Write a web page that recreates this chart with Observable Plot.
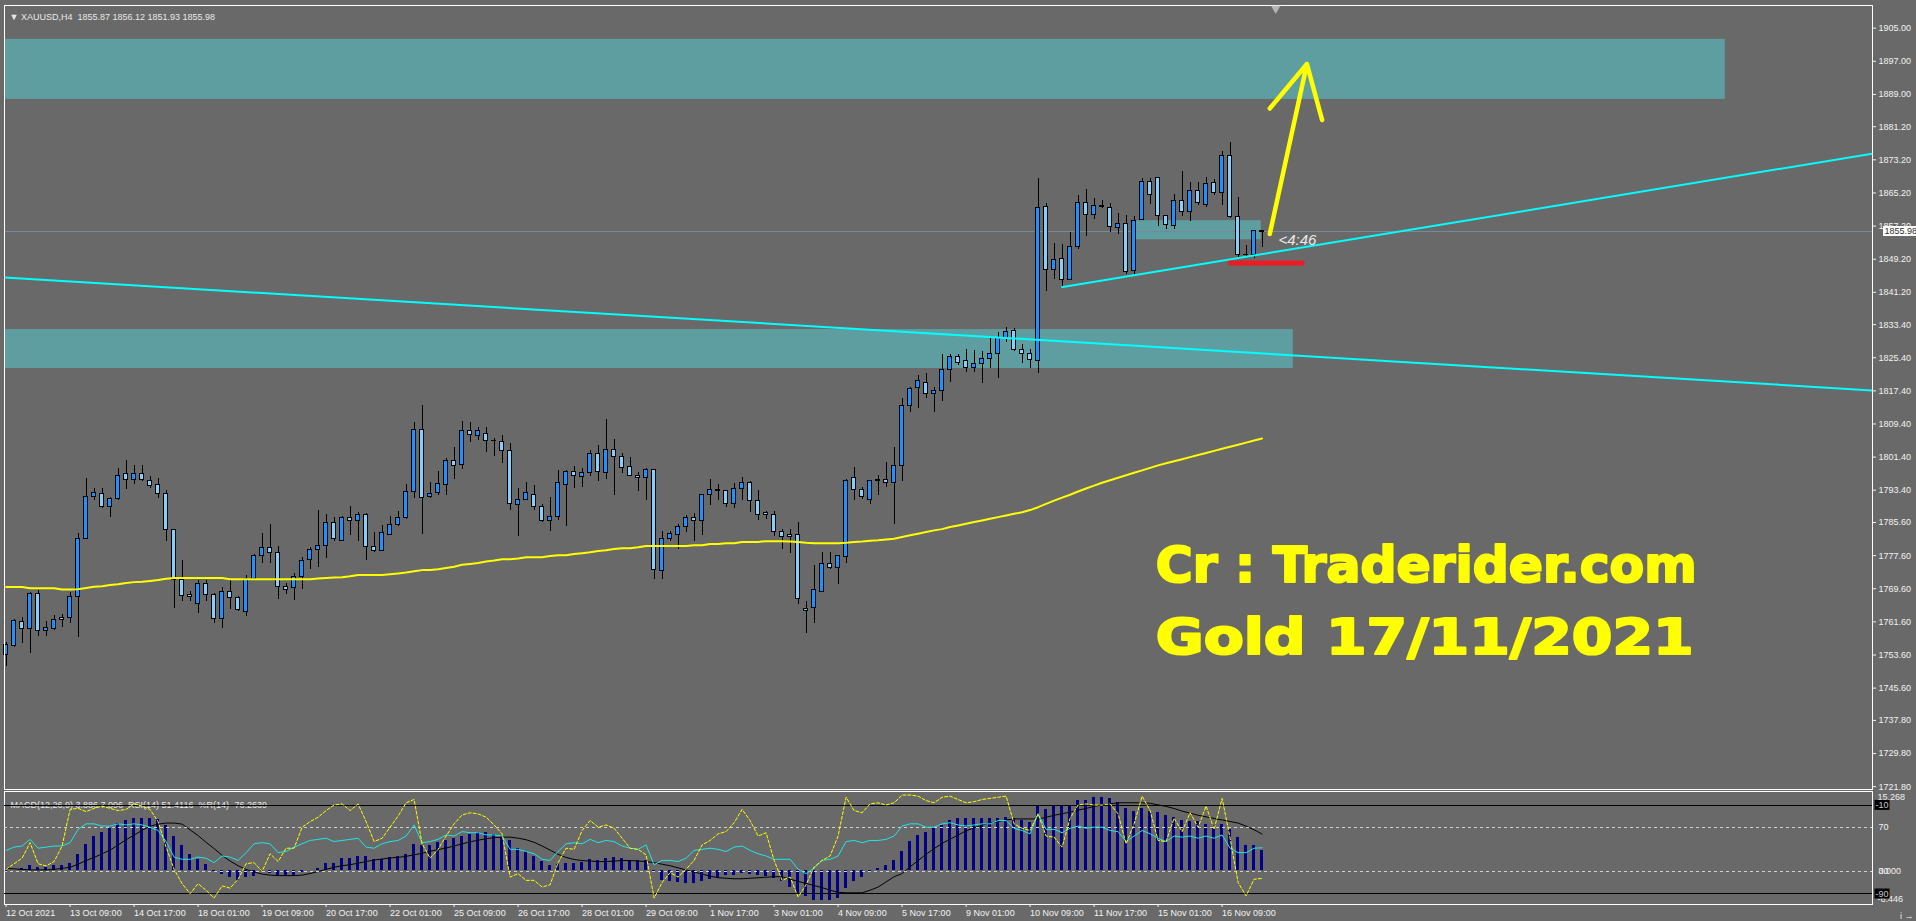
<!DOCTYPE html>
<html><head><meta charset="utf-8">
<script src="https://cdn.jsdelivr.net/npm/d3@7"></script>
<script src="https://cdn.jsdelivr.net/npm/@observablehq/plot@0.6"></script>
<style>
html,body{margin:0;padding:0;background:#696969;overflow:hidden;}
#wrap{position:relative;width:1916px;height:921px;background:#696969;}
#wrap svg{position:absolute;left:0;}
</style></head><body><div id="wrap"></div><script>
// ---------- DATA ----------
const xLabels = ["12 Oct 2021","13 Oct 09:00","14 Oct 17:00","18 Oct 01:00","19 Oct 09:00","20 Oct 17:00","22 Oct 01:00","25 Oct 09:00","26 Oct 17:00","28 Oct 01:00","29 Oct 09:00","1 Nov 17:00","3 Nov 01:00","4 Nov 09:00","5 Nov 17:00","9 Nov 01:00","10 Nov 09:00","11 Nov 17:00","15 Nov 01:00","16 Nov 09:00"];
const priceTicks = [1905,1897,1889,1881.2,1873.2,1865.2,1857.2,1849.2,1841.2,1833.4,1825.4,1817.4,1809.4,1801.4,1793.4,1785.6,1777.6,1769.6,1761.6,1753.6,1745.6,1737.8,1729.8,1721.8];

const opens = [1753.5,1755.8,1761.6,1759.9,1768.4,1759.4,1759.9,1762.6,1762.6,1767.6,
1781.7,1791.8,1792.5,1789.3,1791.3,1797.2,1795.9,1797.2,1795.7,1794.7,
1792.5,1783.7,1771.8,1768.2,1765.9,1770.8,1768.1,1762.3,1768.9,1767.4,
1764.0,1772.0,1777.6,1779.5,1778.3,1770.1,1769.8,1772.5,1776.6,1779.0,
1780.0,1785.5,1781.2,1786.7,1786.0,1787.5,1779.7,1778.8,1782.6,1784.9,
1786.7,1793.0,1808.0,1791.7,1792.8,1794.7,1800.5,1799.5,1807.7,1806.5,
1807.0,1805.2,1805.1,1802.9,1789.9,1791.1,1792.3,1789.4,1786.0,1787.0,
1794.7,1797.9,1796.6,1797.6,1802.2,1797.6,1803.2,1801.5,1799.1,1796.9,
1796.4,1798.3,1773.9,1781.7,1782.6,1784.5,1786.7,1786.0,1792.3,1793.4,
1793.1,1790.1,1793.7,1795.2,1790.8,1787.9,1787.5,1783.4,1782.6,1782.6,
1764.8,1765.0,1768.8,1775.6,1774.6,1777.2,1796.4,1793.5,1791.1,1795.8,
1795.9,1795.2,1799.3,1813.8,1818.1,1819.3,1816.7,1817.3,1822.5,1825.5,
1824.6,1823.0,1823.9,1825.1,1826.2,1830.2,1831.8,1827.3,1826.3,1824.6,
1861.8,1846.6,1849.3,1844.2,1852.1,1862.8,1859.9,1862.0,1861.6,1856.8,
1857.7,1846.4,1858.7,1867.8,1868.8,1859.7,1857.3,1863.2,1860.7,1865.6,
1862.3,1867.7,1865.2,1874.2,1859.3,1850.1,1850.1,1855.87];
const highs = [1756.7,1762.2,1762.6,1768.6,1769.2,1761.8,1763.1,1763.4,1768.8,1782.9,
1796.2,1793.7,1793.7,1791.6,1798.6,1800.6,1799.4,1799.4,1796.6,1796.2,
1793.3,1783.9,1776.4,1768.9,1771.6,1771.6,1768.4,1770.0,1771.6,1767.8,
1772.8,1777.9,1783.0,1785.1,1779.8,1770.9,1773.4,1777.2,1779.6,1788.5,
1787.5,1786.8,1787.1,1789.5,1788.0,1787.7,1783.1,1784.9,1787.1,1788.3,
1794.8,1809.8,1813.9,1795.3,1797.9,1801.0,1803.7,1809.9,1809.8,1808.5,
1808.5,1805.9,1806.5,1804.6,1793.8,1795.3,1794.5,1790.0,1791.7,1798.2,
1798.2,1799.1,1798.6,1803.0,1804.1,1810.5,1805.6,1802.2,1801.2,1797.6,
1798.6,1798.3,1783.4,1783.5,1785.1,1787.3,1787.7,1792.3,1796.0,1794.8,
1793.3,1795.0,1796.5,1795.5,1793.3,1788.3,1788.3,1783.8,1783.8,1785.6,
1766.5,1775.2,1778.3,1778.3,1777.6,1795.9,1799.0,1794.0,1795.7,1797.0,
1800.0,1803.7,1815.6,1818.3,1821.1,1821.5,1818.1,1826.1,1826.3,1826.3,
1827.3,1827.2,1826.9,1830.4,1831.6,1832.6,1832.4,1828.5,1827.3,1868.6,
1862.6,1852.9,1852.7,1855.7,1864.6,1866.0,1863.8,1863.4,1862.6,1860.2,
1859.8,1859.5,1868.6,1868.6,1868.9,1859.7,1864.8,1870.3,1867.8,1867.8,
1868.9,1868.5,1875.1,1877.5,1864.0,1852.4,1856.1,1856.12];
const lows = [1750.7,1755.5,1756.4,1753.9,1758.1,1758.1,1759.5,1760.2,1761.3,1757.9,
1781.7,1790.8,1788.9,1786.7,1790.8,1793.6,1794.7,1795.6,1793.7,1791.5,
1780.9,1764.9,1766.4,1766.5,1763.7,1766.5,1761.1,1760.1,1764.7,1764.0,
1763.0,1772.0,1775.8,1775.8,1767.1,1768.2,1766.8,1769.5,1774.3,1774.8,
1776.8,1781.1,1781.2,1782.5,1780.9,1776.4,1778.3,1778.5,1782.6,1784.7,
1786.4,1791.3,1782.7,1791.4,1792.2,1792.1,1796.1,1798.5,1805.0,1805.4,
1802.6,1801.6,1799.9,1788.6,1782.3,1790.9,1788.4,1785.5,1783.5,1786.0,
1784.7,1793.9,1794.1,1796.8,1795.6,1796.1,1792.2,1797.5,1796.9,1793.2,
1791.0,1771.9,1771.9,1781.1,1779.0,1783.3,1780.9,1782.5,1789.7,1790.9,
1789.3,1789.1,1790.8,1788.1,1786.1,1786.4,1782.2,1779.2,1778.2,1765.7,
1758.7,1761.3,1768.8,1774.2,1770.6,1775.8,1790.8,1791.2,1790.0,1792.1,
1794.1,1785.0,1795.6,1812.2,1813.1,1815.6,1812.2,1814.9,1819.5,1823.5,
1821.9,1821.9,1819.1,1822.7,1820.3,1829.2,1827.0,1824.1,1822.9,1821.5,
1841.5,1844.4,1842.5,1844.1,1851.6,1854.8,1858.9,1861.5,1855.7,1855.1,
1845.5,1845.5,1858.7,1862.4,1857.1,1856.4,1856.3,1859.6,1858.2,1862.2,
1861.8,1864.6,1862.2,1859.0,1849.7,1849.7,1849.3,1851.93];
const closes = [1756.1,1761.9,1759.9,1768.4,1759.4,1760.2,1762.1,1762.1,1767.6,1781.7,
1791.8,1792.8,1789.3,1791.3,1796.9,1795.9,1797.2,1795.9,1794.5,1792.5,
1783.8,1771.6,1767.9,1767.6,1770.8,1768.1,1762.3,1768.9,1767.4,1764.4,
1772.0,1777.6,1779.5,1778.3,1770.1,1769.3,1772.5,1776.3,1779.0,1780.0,
1785.5,1781.7,1786.7,1786.0,1787.5,1779.7,1778.8,1783.1,1785.0,1786.7,
1793.0,1808.0,1791.6,1792.5,1794.9,1800.5,1799.3,1807.7,1806.7,1807.7,
1805.2,1805.3,1802.9,1790.1,1791.1,1792.8,1789.4,1786.0,1787.0,1795.2,
1797.9,1796.9,1797.6,1802.2,1797.9,1803.2,1801.5,1798.8,1796.9,1796.4,
1798.3,1774.2,1781.7,1782.9,1784.5,1786.7,1786.0,1792.3,1793.5,1793.3,
1790.1,1793.7,1795.2,1790.8,1787.5,1787.5,1783.3,1782.1,1782.1,1767.2,
1764.2,1769.3,1775.6,1774.6,1777.4,1795.7,1793.5,1791.7,1795.7,1795.7,
1795.2,1799.3,1813.8,1817.9,1819.7,1816.7,1817.3,1822.5,1825.5,1824.2,
1823.0,1823.9,1825.1,1826.3,1830.2,1831.7,1827.3,1826.3,1824.9,1861.6,
1846.6,1849.0,1844.2,1852.1,1862.8,1859.9,1862.1,1861.9,1857.0,1857.7,
1846.2,1858.5,1867.8,1864.8,1859.7,1857.5,1863.2,1860.7,1865.6,1862.8,
1867.4,1865.2,1874.2,1859.3,1850.1,1850.2,1855.9,1855.98];
const movingAvg = [1770.0,1770.0,1770.0,1769.7,1769.7,1769.7,1769.7,1769.4,1769.4,1769.5,
1769.8,1770.1,1770.2,1770.5,1770.7,1771.0,1771.2,1771.3,1771.5,1771.7,
1772.0,1772.2,1772.2,1772.2,1772.2,1772.2,1772.2,1772.2,1771.9,1771.9,
1771.9,1771.9,1771.9,1771.9,1771.9,1771.9,1771.9,1771.9,1771.9,1772.1,
1772.2,1772.3,1772.4,1772.6,1772.9,1772.9,1772.9,1772.9,1773.1,1773.3,
1773.5,1773.8,1774.1,1774.1,1774.3,1774.6,1774.9,1775.4,1775.6,1775.8,
1776.2,1776.4,1776.7,1776.7,1776.9,1777.2,1777.2,1777.2,1777.5,1777.7,
1777.7,1778.0,1778.2,1778.4,1778.7,1778.9,1779.2,1779.4,1779.4,1779.6,
1779.9,1779.9,1779.9,1779.9,1779.9,1779.9,1780.1,1780.1,1780.4,1780.4,
1780.6,1780.6,1780.9,1780.9,1780.9,1781.1,1781.1,1781.1,1781.0,1780.9,
1780.7,1780.6,1780.6,1780.6,1780.6,1780.7,1780.9,1781.0,1781.2,1781.3,
1781.5,1781.7,1782.1,1782.5,1782.9,1783.3,1783.7,1784.0,1784.5,1784.9,
1785.3,1785.7,1786.1,1786.5,1786.9,1787.3,1787.7,1788.1,1788.6,1789.3,
1790.1,1790.9,1791.6,1792.3,1793.1,1793.8,1794.5,1795.2,1795.8,1796.4,
1797.0,1797.6,1798.2,1798.8,1799.4,1799.9,1800.4,1800.9,1801.4,1801.9,
1802.4,1802.9,1803.4,1803.9,1804.4,1804.9,1805.4,1805.9];
const macdMain = [-0.3,0.1,0.4,1.0,0.7,0.7,1.0,1.1,1.5,3.1,
5.1,6.6,7.4,8.2,9.2,9.7,10.1,10.1,10.1,9.9,
8.7,6.7,4.8,3.1,2.2,1.2,-0.2,-0.6,-1.3,-1.9,
-1.2,-1.0,-0.2,-0.5,-0.8,-0.8,-0.8,-0.3,0.1,0.5,
1.4,1.5,2.3,2.4,2.8,2.7,2.2,2.2,2.5,2.7,
3.1,5.1,4.9,4.9,5.4,5.8,6.2,6.6,7.1,7.3,
7.3,7.1,6.7,5.8,4.4,3.8,2.8,1.8,1.0,1.2,
1.4,1.5,1.6,2.2,2.0,2.4,2.5,2.3,2.0,2.0,
2.0,-0.3,-1.8,-2.1,-2.3,-2.4,-2.5,-2.1,-1.6,-1.3,
-0.8,-0.8,-0.5,-0.6,-0.8,-1.0,-1.4,-2.1,-3.1,-4.4,
-5.0,-5.6,-5.6,-5.6,-5.2,-3.4,-2.1,-1.2,-0.3,0.5,
1.0,2.0,3.8,5.6,6.9,7.4,8.2,8.8,9.7,10.0,
10.0,10.0,10.0,10.0,10.1,10.3,10.0,9.7,9.3,12.6,
11.8,12.3,12.5,12.6,13.6,13.6,14.2,14.2,13.9,13.1,
12.0,11.4,12.0,11.4,11.3,10.7,10.3,9.7,9.5,9.5,
9.0,8.7,9.0,8.0,6.4,4.8,4.8,3.886];
const macdSignal = [0.5,0.4,0.3,0.2,0.2,0.2,0.3,0.5,0.7,1.3,
2.0,2.6,3.3,4.0,5.0,6.0,6.9,7.8,8.6,9.0,
9.2,9.2,9.0,7.9,6.8,5.5,4.3,3.0,1.9,1.0,
0.3,-0.2,-0.6,-0.8,-0.9,-0.9,-0.9,-0.8,-0.5,-0.1,
0.3,0.7,1.0,1.2,1.5,1.8,2.1,2.3,2.5,2.6,
2.8,3.1,3.4,3.8,4.1,4.4,4.8,5.2,5.6,5.9,
6.2,6.4,6.5,6.5,6.3,6.0,5.5,4.8,4.0,3.2,
2.6,2.2,2.0,1.9,1.8,1.8,1.9,2.0,2.0,1.9,
1.8,1.6,1.3,1.0,0.6,0.2,-0.2,-0.6,-1.0,-1.3,
-1.4,-1.5,-1.5,-1.4,-1.3,-1.2,-1.1,-1.1,-1.6,-2.0,
-2.4,-2.8,-3.2,-3.7,-4.1,-4.2,-4.2,-4.2,-3.7,-3.1,
-2.1,-1.1,-0.5,0.8,2.0,3.2,4.3,5.3,6.1,6.9,
7.7,8.3,8.8,9.2,9.5,9.8,10.0,10.0,10.0,10.0,
10.3,10.7,11.0,11.3,11.7,12.0,12.4,12.7,12.9,13.1,
13.1,13.1,13.1,13.0,12.7,12.4,12.0,11.5,11.1,10.7,
10.4,10.1,9.8,9.5,9.2,8.6,7.9,7.096];
const rsi14 = [49,52,53,59,51,52,53,53,56,68,
73,73,71,71,73,72,73,72,70,67,
57,43,41,41,43,42,38,44,43,40,
47,55,56,55,47,48,52,55,58,59,
60,57,58,59,60,52,51,55,57,58,
62,72,56,57,59,63,62,66,65,65,
63,63,62,50,50,48,46,41,40,48,
55,56,55,59,56,58,57,53,51,50,
54,36,40,40,39,42,49,50,51,50,
48,52,53,49,46,44,41,41,41,32,
28,33,40,41,44,57,58,56,58,58,
59,62,71,73,73,70,70,73,74,72,
71,72,73,73,76,76,69,67,64,82,
68,68,65,69,71,69,70,70,67,66,
57,62,67,64,60,57,62,61,62,60,
62,60,63,51,47,47,51,51.41];
const wpr14 = [-68,-63,-58,-44,-63,-65,-61,-47,-14,-13,
-16,-13,-11,-13,-15,-14,-9,-11,-14,-25,
-48,-68,-81,-90,-81,-87,-94,-83,-85,-77,
-63,-62,-70,-54,-61,-49,-49,-30,-25,-21,
-15,-10,-9,-15,-9,-25,-43,-40,-30,-20,
-8,-5,-45,-58,-50,-38,-27,-19,-17,-18,
-21,-28,-36,-75,-72,-78,-78,-84,-82,-62,
-49,-50,-33,-24,-30,-28,-31,-40,-49,-50,
-55,-94,-80,-71,-75,-68,-60,-46,-42,-36,
-34,-26,-14,-24,-38,-35,-60,-78,-75,-93,
-82,-66,-60,-56,-38,-3,-15,-17,-9,-8,
-10,-8,-1,-1,-2,-6,-8,-3,-2,-5,
-8,-7,-5,-4,-3,-2,-27,-31,-33,-18,
-38,-39,-48,-22,-10,-9,-10,-10,-9,-18,
-45,-27,-2,-15,-42,-43,-22,-34,-17,-30,
-11,-32,-4,-40,-80,-92,-77,-76.26];

// drawn objects (bar index / price anchors)
const zoneX1 = [-2, -2, 141.3];
const zoneX2 = [214.9, 160.9, 156.9];
const zoneTop = [1902.3, 1832.2, 1858.5];
const zoneBottom = [1887.8, 1822.8, 1853.9];
const trendX1 = [-0.2, 131.9];
const trendP1 = [1844.8, 1842.45];
const trendX2 = [233.3, 233.3];
const trendP2 = [1817.5, 1874.7];
const redX = [153.05, 162.0];
const redP = 1848.3;
const arrowFrom = [157.96, 1855.3];
const arrowTo = [162.6, 1896.35];
const lastPrice = 1855.98;
const shiftMarker = 158.7;
const timerText = "<4:46";
const timerAnchor = [159.05, 1853.7];
const bigTexts = ["Cr : Traderider.com", "Gold 17/11/2021"];
const bigX = [143.7, 143.7];
const bigY = [1775.2, 1757.6];
const bigW = [541, 538];
const header = "\u25BC XAUUSD,H4  1855.87 1856.12 1851.93 1855.98";
const indHeader = "MACD(12,26,9) 3.886 7.096  RSI(14) 51.4116  %R(14) -76.2639";

// ---------- BUILD ----------
const N = opens.length;
const bars = d3.range(N).map(i => ({i, o: opens[i], h: highs[i], l: lows[i], c: closes[i],
  ma: movingAvg[i], macd: macdMain[i], sig: macdSignal[i], rsi: rsi14[i], wpr: wpr14[i]}));
const zones = zoneX1.map((x, k) => ({x1: x, x2: zoneX2[k], y1: zoneBottom[k], y2: zoneTop[k]}));
const trends = trendX1.map((x, k) => ({x1: x, y1: trendP1[k], x2: trendX2[k], y2: trendP2[k]}));
const xDomain = [-0.2, 233.3];
const FONT = "'Liberation Sans', Arial, sans-serif";
const baseStyle = {background: "transparent", fontFamily: FONT, fontSize: "9px", color: "white", overflow: "visible"};

const main = Plot.plot({
  width: 1916, height: 790, marginTop: 5, marginBottom: 1, marginLeft: 4, marginRight: 44,
  style: baseStyle,
  x: {domain: xDomain, axis: null},
  y: {domain: [1721.11, 1910.48], axis: null},
  marks: [
    Plot.rect(zones, {x1: "x1", x2: "x2", y1: "y1", y2: "y2", fill: "#5f9ea0", clip: true}),
    Plot.ruleY([lastPrice], {stroke: "#778899", strokeWidth: 1, shapeRendering: "crispEdges"}),
    Plot.ruleX(bars, {x: "i", y1: "l", y2: "h", stroke: "black", strokeWidth: 1, shapeRendering: "crispEdges"}),
    Plot.rect(bars, {filter: d => d.c >= d.o, x1: d => d.i - 0.26, x2: d => d.i + 0.26, y1: "o", y2: "c",
      fill: "#1e90ff", stroke: "black", strokeWidth: 1, shapeRendering: "crispEdges"}),
    Plot.rect(bars, {filter: d => d.c < d.o, x1: d => d.i - 0.26, x2: d => d.i + 0.26, y1: "o", y2: "c",
      fill: "#87cefa", stroke: "black", strokeWidth: 1, shapeRendering: "crispEdges"}),
    Plot.line(bars, {x: "i", y: "ma", stroke: "#ffff00", strokeWidth: 2}),
    Plot.link(trends, {x1: "x1", y1: "y1", x2: "x2", y2: "y2", stroke: "#00ffff", strokeWidth: 2, clip: true}),
    Plot.link([redX], {x1: d => d[0], x2: d => d[1], y1: () => redP, y2: () => redP, stroke: "#ed1c24", strokeWidth: 5, strokeLinecap: "round"}),
    Plot.arrow([[arrowFrom, arrowTo]], {x1: d => d[0][0], y1: d => d[0][1], x2: d => d[1][0], y2: d => d[1][1],
      stroke: "#ffff00", strokeWidth: 4.5, headAngle: 55, headLength: 20}),
    Plot.text([timerText], {x: () => timerAnchor[0], y: () => timerAnchor[1], text: d => d, textAnchor: "start",
      fill: "#ececec", fontSize: 15, fontStyle: "italic", fontFamily: FONT}),
    Plot.text(bigTexts, {x: (d, k) => bigX[k], y: (d, k) => bigY[k], text: d => d, textAnchor: "start",
      fill: "#ffff00", stroke: "#ffff00", strokeWidth: 2.2, fontSize: 50, fontWeight: "bold",
      fontFamily: "'DejaVu Sans', sans-serif", ariaDescription: "bigtext"}),
    Plot.text([header], {frameAnchor: "top-left", dx: 5, dy: 8, text: d => d, textAnchor: "start", fill: "#e8e8e8", fontSize: 9}),
    Plot.frame({stroke: "white", strokeWidth: 1, shapeRendering: "crispEdges"}),
    Plot.dot([shiftMarker], {x: d => d, frameAnchor: "top", dy: 3, symbol: "triangle", rotate: 180, r: 3.5, fill: "#b4b4b4", stroke: null}),
    Plot.axisY(priceTicks, {anchor: "right", tickSize: 3, tickPadding: 3, tickFormat: d => d.toFixed(2), color: "#f2f2f2"}),
    Plot.text([lastPrice], {y: d => d, frameAnchor: "right", dx: 12, text: d => d.toFixed(2), textAnchor: "start",
      fill: "#303030", ariaDescription: "pricebox"})
  ]
});

const ind = {width: 1916, height: 132, marginTop: 2, marginBottom: 17, marginLeft: 4, marginRight: 44};

const macdPlot = Plot.plot({
  ...ind, style: baseStyle,
  x: {domain: xDomain, axis: null},
  y: {domain: [-6.446, 15.268], axis: null},
  marks: [
    Plot.rect(bars, {x1: d => d.i - 0.2, x2: d => d.i + 0.2, y1: () => 0, y2: "macd", fill: "#00008b", shapeRendering: "crispEdges"}),
    Plot.line(bars, {x: "i", y: "sig", stroke: "black", strokeWidth: 1}),
    Plot.frame({stroke: "white", strokeWidth: 1, shapeRendering: "crispEdges"}),
    Plot.axisX(d3.range(0, 153, 8), {anchor: "bottom", tickSize: 3, tickPadding: 2, tickFormat: i => xLabels[i / 8],
      textAnchor: "start", color: "#f2f2f2"}),
    Plot.text([15.268], {y: d => d, frameAnchor: "right", dx: 5, dy: 6, text: d => d.toFixed(3), textAnchor: "start", fill: "#f2f2f2"}),
    Plot.text([0], {y: d => d, frameAnchor: "right", dx: 6, text: d => d.toFixed(3), textAnchor: "start", fill: "#f2f2f2"}),
    Plot.text([-6.446], {y: d => d, frameAnchor: "right", dx: 5, dy: -5, text: d => d.toFixed(3), textAnchor: "start", fill: "#f2f2f2"}),
    Plot.text([indHeader], {frameAnchor: "top-left", dx: 6, dy: 10, text: d => d, textAnchor: "start", fill: "#e8e8e8"})
  ]
});

const rsiPlot = Plot.plot({
  ...ind, style: baseStyle,
  x: {domain: xDomain, axis: null},
  y: {domain: [0.2, 102.2], axis: null},
  marks: [
    Plot.ruleY([70, 30], {stroke: "#d0d0d0", strokeDasharray: "3,3", shapeRendering: "crispEdges"}),
    Plot.line(bars, {x: "i", y: "rsi", stroke: "#22e5e5", strokeWidth: 1}),
    Plot.text([70, 30], {y: d => d, frameAnchor: "right", dx: 6, text: d => String(d), textAnchor: "start", fill: "#f2f2f2"})
  ]
});

const wprPlot = Plot.plot({
  ...ind, style: baseStyle,
  x: {domain: xDomain, axis: null},
  y: {domain: [-99.8, 2.2], axis: null},
  marks: [
    Plot.ruleY([-10, -90], {stroke: "black", strokeWidth: 1, shapeRendering: "crispEdges"}),
    Plot.line(bars, {x: "i", y: "wpr", stroke: "#ffff00", strokeWidth: 1, strokeDasharray: "3,2"}),
    Plot.text([-10, -90], {y: d => d, frameAnchor: "right", dx: 3, text: d => String(d), textAnchor: "start",
      fill: "#c8c8c8", ariaDescription: "blackbox"})
  ]
});

const wrap = document.getElementById("wrap");
main.style.top = "0px";
[macdPlot, rsiPlot, wprPlot].forEach(s => { s.style.top = "789px"; });
wrap.append(main, macdPlot, rsiPlot, wprPlot);

function groupTexts(svg, desc) {
  return [...svg.querySelectorAll("g")].filter(g => g.getAttribute("aria-description") === desc)
    .flatMap(g => [...g.querySelectorAll("text")]);
}
function boxes(svg, desc, fill, px, py) {
  groupTexts(svg, desc).forEach(t => {
    const b = t.getBBox();
    const r = document.createElementNS("http://www.w3.org/2000/svg", "rect");
    r.setAttribute("x", b.x - px); r.setAttribute("y", b.y - py);
    r.setAttribute("width", b.width + 2 * px); r.setAttribute("height", b.height + 2 * py);
    r.setAttribute("fill", fill); r.setAttribute("stroke", "none");
    const tr = t.getAttribute("transform"); if (tr) r.setAttribute("transform", tr);
    t.parentNode.insertBefore(r, t);
  });
}
boxes(main, "pricebox", "white", 1.5, 0);
boxes(wprPlot, "blackbox", "black", 1, 0);
groupTexts(main, "bigtext").forEach((t, k) => {
  t.setAttribute("textLength", bigW[k]);
  t.setAttribute("lengthAdjust", "spacingAndGlyphs");
});
</script></body></html>
